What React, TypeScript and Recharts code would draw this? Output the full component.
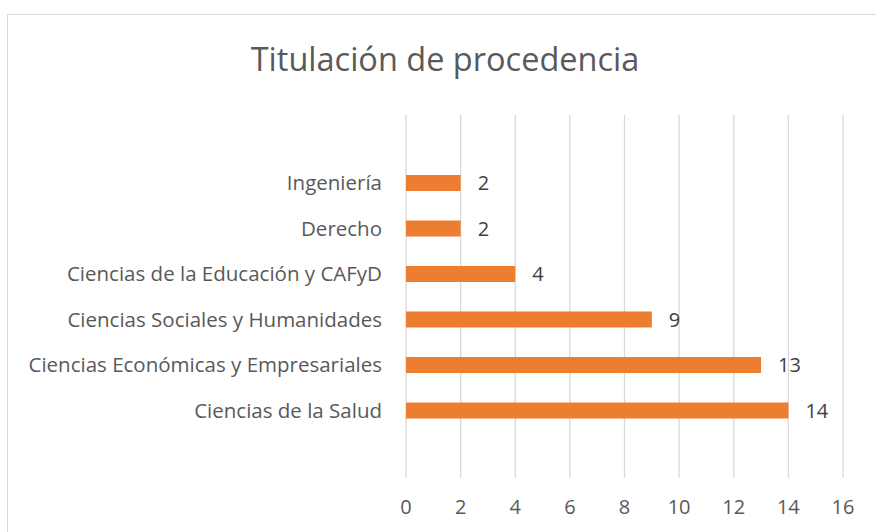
import { BarChart, Bar, XAxis, YAxis, CartesianGrid, LabelList } from 'recharts';

const categories = [
  'Ingeniería',
  'Derecho',
  'Ciencias de la Educación y CAFyD',
  'Ciencias Sociales y Humanidades',
  'Ciencias Económicas y Empresariales',
  'Ciencias de la Salud',
];
const counts = [2, 2, 4, 9, 13, 14];
const xTicks = [0, 2, 4, 6, 8, 10, 12, 14, 16];

const FONT = '"Open Sans", sans-serif';

export default function App() {
  const chartData = categories.map((name, i) => ({ name, value: counts[i] }));

  return (
    <div style={{ position: 'absolute', left: 0, top: 0, width: 876, height: 532, background: '#fff', overflow: 'hidden' }}>
      {/* chart frame, only left and top edges show in the crop */}
      <div
        style={{
          position: 'absolute',
          left: 7,
          top: 14,
          width: 900,
          height: 560,
          border: '1px solid #d9d9d9',
        }}
      />
      <div
        style={{
          position: 'absolute',
          left: 0,
          width: 890,
          top: 36,
          textAlign: 'center',
          fontFamily: FONT,
          fontSize: 32.5,
          color: '#595959',
        }}
      >
        Titulación de procedencia
      </div>
      <div style={{ position: 'absolute', left: 0, top: 0 }}>
        <BarChart
          width={876}
          height={532}
          data={chartData}
          layout="vertical"
          margin={{ top: 115, right: 33, bottom: 0, left: 0 }}
        >
          <CartesianGrid horizontal={false} stroke="#d9d9d9" strokeWidth={1.3} />
          <XAxis
            type="number"
            domain={[0, 16]}
            ticks={xTicks}
            height={54}
            axisLine={false}
            tickLine={false}
            tickMargin={16}
            tick={{ fill: '#595959', fontSize: 20, fontFamily: FONT }}
          />
          <YAxis
            type="category"
            dataKey="name"
            width={406}
            axisLine={false}
            tickLine={false}
            tickSize={0}
            tickMargin={24}
            padding={{ top: 45, bottom: 45 }}
            tick={{ fill: '#595959', fontSize: 20.5, fontFamily: FONT }}
          />
          <Bar dataKey="value" fill="#ED7D31" barSize={16} isAnimationActive={false}>
            <LabelList
              dataKey="value"
              position="right"
              offset={17}
              style={{ fill: '#404040', fontSize: 20, fontFamily: FONT }}
            />
          </Bar>
        </BarChart>
      </div>
    </div>
  );
}
